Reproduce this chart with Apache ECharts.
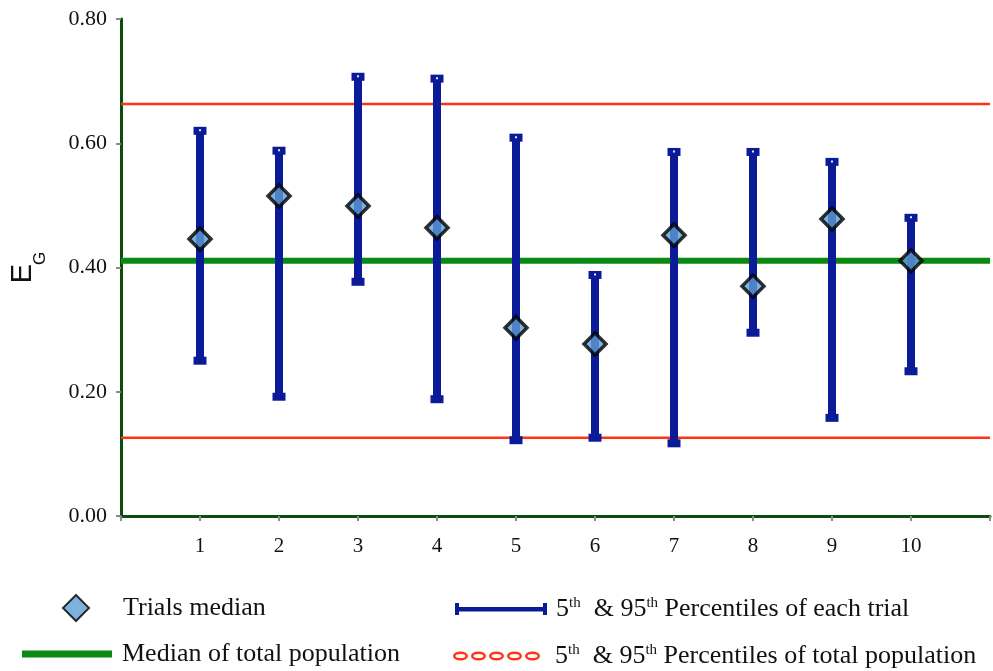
<!DOCTYPE html>
<html>
<head>
<meta charset="utf-8">
<script src="https://cdn.jsdelivr.net/npm/echarts@6/dist/echarts.min.js"></script>
<style>html,body{margin:0;padding:0;background:#fff;}#c{width:993px;height:671px;}</style>
</head>
<body>
<div id="c"></div>
<script>
// ---- data ----
var trials = [1, 2, 3, 4, 5, 6, 7, 8, 9, 10];
var trialMedian = [0.446, 0.515, 0.499, 0.464, 0.303, 0.277, 0.452, 0.370, 0.478, 0.411];
var trialP95 = [0.620, 0.588, 0.707, 0.704, 0.609, 0.388, 0.586, 0.586, 0.570, 0.480];
var trialP5 = [0.250, 0.192, 0.377, 0.188, 0.122, 0.126, 0.117, 0.295, 0.158, 0.233];
var popMedian = 0.411;
var popP95 = 0.663;
var popP5 = 0.126;
var xRange = [0, 11];
var yTicks = [0, 0.2, 0.4, 0.6, 0.8];

var NAME_MED = 'Trials median';
var NAME_PMED = 'Median of total population';
var NAME_ERR = '5th & 95th Percentiles of each trial';
var NAME_POP = '5th & 95th Percentiles of total population';

var navy = '#0b1b97';
var green = '#0a8a12';
var red = '#ff3414';
var axisGreen = '#0b4d0b';
var serif = '"Liberation Serif", "DejaVu Serif", serif';

var errData = trials.map(function (t, i) { return [t, trialP5[i], trialP95[i]]; });
var medData = trials.map(function (t, i) { return [t, trialMedian[i]]; });

function supFmt(name) {
  return name.replace(/(\d+)th/g, '$1{s|th}').replace(/ & /g, '  & ');
}
var rich = { s: { fontFamily: serif, fontSize: 15, verticalAlign: 'top', lineHeight: 26, padding: [0, 0, 10, 0], color: '#111' } };
var legendText = { fontFamily: serif, fontSize: 26, color: '#111', rich: rich };

// rings icon for red legend
function ringsPath() {
  var p = '';
  for (var k = 0; k < 5; k++) {
    var cx = 7.5 + k * 18;
    p += 'M' + (cx - 7.5) + ',4.5 a7.5,4.5 0 1,0 15,0 a7.5,4.5 0 1,0 -15,0 Z ';
    p += 'M' + (cx - 5) + ',4.5 a5,2 0 1,1 10,0 a5,2 0 1,1 -10,0 Z ';
  }
  return 'path://' + p;
}

var chart = echarts.init(document.getElementById('c'));
chart.setOption({
  animation: false,
  backgroundColor: '#fff',
  grid: { left: 120, right: 3, top: 19, bottom: 155 },
  xAxis: {
    type: 'value', min: xRange[0], max: xRange[1], interval: 1,
    splitLine: { show: false },
    axisLine: { show: true, onZero: false, lineStyle: { color: axisGreen, width: 3 } },
    axisTick: { show: true, length: 5, lineStyle: { color: '#8a8a8a', width: 2 } },
    axisLabel: {
      margin: 20, fontFamily: serif, fontSize: 21, color: '#111',
      formatter: function (v) { return (v >= 1 && v <= 10) ? String(v) : ''; }
    }
  },
  yAxis: {
    type: 'value', min: yTicks[0], max: yTicks[yTicks.length - 1], interval: 0.2,
    splitLine: { show: false },
    axisLine: { show: true, lineStyle: { color: axisGreen, width: 3 } },
    axisTick: { show: true, length: 5, lineStyle: { color: '#8a8a8a', width: 2 } },
    axisLabel: {
      margin: 14, fontFamily: serif, fontSize: 22, color: '#111',
      formatter: function (v) { return v.toFixed(2); }
    },
    name: '{e|E}{g|G}',
    nameLocation: 'middle', nameRotate: 90, nameGap: 84,
    nameTextStyle: {
      rich: {
        e: { fontFamily: '"Liberation Sans", Arial, sans-serif', fontSize: 29, color: '#111', verticalAlign: 'bottom', lineHeight: 34 },
        g: { fontFamily: '"Liberation Sans", Arial, sans-serif', fontSize: 17, color: '#111', verticalAlign: 'bottom', lineHeight: 34, padding: [0, 0, -12, -1] }
      }
    }
  },
  legend: [
    { show: true, left: 62, top: 594, padding: 0, data: [{ name: NAME_MED, icon: 'diamond' }], itemWidth: 26, itemHeight: 26,
      textStyle: Object.assign({ padding: [0, 0, 0, 29] }, legendText), formatter: supFmt, selectedMode: false },
    { show: true, left: 22, top: 641, padding: 0, data: [{ name: NAME_PMED, icon: 'rect' }], itemWidth: 90, itemHeight: 7,
      textStyle: Object.assign({ padding: [0, 0, 0, 5] }, legendText), formatter: supFmt, selectedMode: false },
    { show: true, left: 455, top: 596, padding: 0,
      data: [{ name: NAME_ERR, icon: 'path://M0,0h4v12h-4z M4,4h84v4.5h-84z M88,0h4v12h-4z', itemStyle: { color: navy } }],
      itemWidth: 92, itemHeight: 12, textStyle: Object.assign({ padding: [0, 0, 0, 4] }, legendText), formatter: supFmt, selectedMode: false },
    { show: true, left: 453, top: 643, padding: 0,
      data: [{ name: NAME_POP, icon: ringsPath(), itemStyle: { color: red } }],
      itemWidth: 87, itemHeight: 9, textStyle: Object.assign({ padding: [0, 0, 0, 10] }, legendText), formatter: supFmt, selectedMode: false }
  ],
  series: [
    {
      name: NAME_POP, type: 'line', data: [[xRange[0], popP95], [xRange[1], popP95]],
      symbol: 'none', lineStyle: { color: red, width: 2.5 }, itemStyle: { color: red }, z: 2, silent: true
    },
    {
      name: NAME_POP, type: 'line', data: [[xRange[0], popP5], [xRange[1], popP5]],
      symbol: 'none', lineStyle: { color: red, width: 2.5 }, itemStyle: { color: red }, z: 2, silent: true
    },
    {
      name: NAME_PMED, type: 'line', data: [[xRange[0], popMedian], [xRange[1], popMedian]],
      symbol: 'none', lineStyle: { color: green, width: 6 }, itemStyle: { color: green }, z: 3, silent: true
    },
    {
      name: NAME_ERR, type: 'custom', data: errData, z: 4,
      itemStyle: { color: navy },
      encode: { x: 0, y: [1, 2] },
      renderItem: function (params, api) {
        var x = api.value(0);
        var lo = api.coord([x, api.value(1)]);
        var hi = api.coord([x, api.value(2)]);
        var cx = lo[0];
        return {
          type: 'group',
          children: [
            { type: 'rect', shape: { x: cx - 4, y: hi[1], width: 8, height: lo[1] - hi[1] }, style: { fill: navy } },
            { type: 'rect', shape: { x: cx - 6.5, y: hi[1] - 4, width: 13, height: 8 }, style: { fill: navy } },
            { type: 'rect', shape: { x: cx - 1, y: hi[1] - 1.5, width: 2, height: 2 }, style: { fill: '#dfe6ff' } },
            { type: 'rect', shape: { x: cx - 6.5, y: lo[1] - 4, width: 13, height: 8 }, style: { fill: navy } }
          ]
        };
      }
    },
    {
      name: NAME_MED, type: 'scatter', data: medData, z: 5,
      symbol: 'diamond', symbolSize: 22,
      itemStyle: { color: '#5f9ed6', borderColor: '#000', borderWidth: 3.5 }
    }
  ]
});
</script>
</body>
</html>
